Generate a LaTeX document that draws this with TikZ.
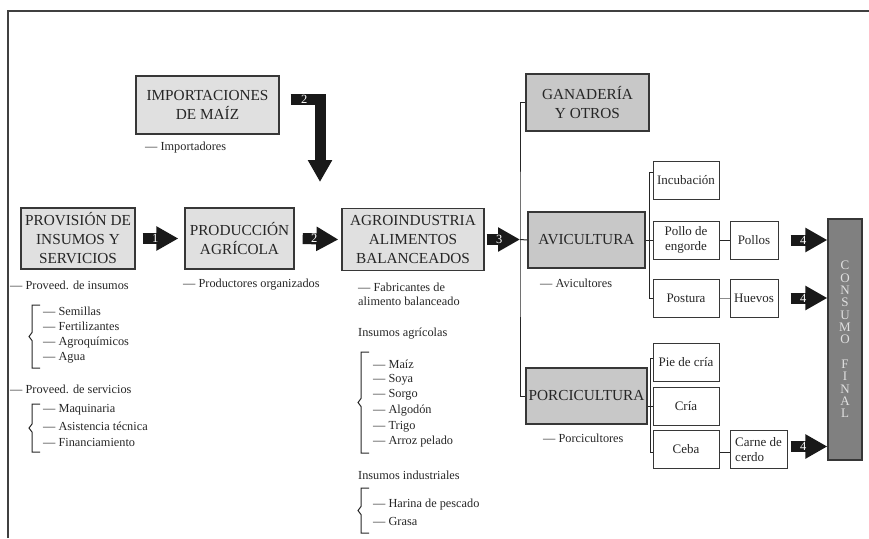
\documentclass[tikz,border=0pt]{standalone}
\usepackage{fontspec}
\setmainfont{Liberation Serif}
\usetikzlibrary{arrows.meta, positioning, calc}

\definecolor{grisclaro}{RGB}{224,224,224}
\definecolor{grismedio}{RGB}{200,200,200}
\definecolor{grisoscuro}{RGB}{128,128,128}
\definecolor{borde}{RGB}{55,55,55}

\tikzset{
  caja/.style={draw=borde, line width=1.3pt, fill=grisclaro, align=center, inner sep=0pt,
    font=\fontsize{15.3}{19}\selectfont, text=black!85},
  sector/.style={caja, fill=grismedio},
  cajita/.style={draw=borde, line width=1pt, fill=white, align=center, inner sep=0pt,
    font=\fontsize{13}{15.7}\selectfont, text=black!85, minimum height=38pt},
  texto/.style={anchor=west, inner sep=0pt, font=\fontsize{12.3}{15.6}\selectfont, text=black!85},
  rama/.style={draw=black!85, line width=1pt},
  flecha/.style={draw=black!90, line width=11pt, -{Triangle[length=22pt, width=23pt]}},
  num/.style={text=white, inner sep=0pt, font=\fontsize{12.5}{12.5}\selectfont},
}

% corchete: x, arriba, abajo
\newcommand{\corchete}[3]{%
  \draw[rama] (#1+11,#2) -- (#1+3,#2) -- (#1+3,{(#2+#3)/2-4}) -- (#1,{(#2+#3)/2})
    -- (#1+3,{(#2+#3)/2+4}) -- (#1+3,#3) -- (#1+11,#3);}

\begin{document}
\begin{tikzpicture}[x=1pt, y=-1pt]
        % --- definiciones ---
        \def\colA{653}   % columna de cajitas
        \def\anchoA{66}
        \def\colB{754}

        \useasboundingbox (0,0) rectangle (869,538);

        % --- marco ---
        \draw[black!75, line width=1.5pt] (8,538) -- (8,11) -- (869,11);

        % --- cadena principal ---
        \node[caja, minimum width=143pt, minimum height=58pt] (imp) at (207.5,105) {IMPORTACIONES\\DE MAÍZ};
        \node[caja, minimum width=114pt, minimum height=61pt] (prov) at (78,238.5) {PROVISIÓN DE\\INSUMOS Y\\SERVICIOS};
        \node[caja, minimum width=109pt, minimum height=61pt] (prod) at (239.5,238.5) {PRODUCCIÓN\\AGRÍCOLA};
        \node[caja, minimum width=142pt, minimum height=62pt] (agro) at (413,239.5) {AGROINDUSTRIA\\ALIMENTOS\\BALANCEADOS};

        % --- sectores ---
        \node[sector, minimum width=123pt, minimum height=57pt] (gan) at (587.5,102.5) {GANADERÍA\\Y OTROS};
        \node[sector, minimum width=117pt, minimum height=56pt] (avi) at (586.5,240) {AVICULTURA};
        \node[sector, minimum width=121pt, minimum height=56pt] (porci) at (586.5,396) {PORCICULTURA};

        % --- cajitas ---
        \node[cajita, minimum width=\anchoA pt] (incub) at (\colA+33,180) {Incubación};
        \node[cajita, minimum width=\anchoA pt] (pollo) at (\colA+33,240) {Pollo de\\engorde};
        \node[cajita, minimum width=\anchoA pt] (postura) at (\colA+33,298) {Postura};
        \node[cajita, minimum width=\anchoA pt] (pie) at (\colA+33,362) {Pie de cría};
        \node[cajita, minimum width=\anchoA pt] (cria) at (\colA+33,406) {Cría};
        \node[cajita, minimum width=\anchoA pt] (ceba) at (\colA+33,449.5) {Ceba};
        \node[cajita, minimum width=48pt] (pollos) at (\colB,240) {Pollos};
        \node[cajita, minimum width=48pt] (huevos) at (\colB,298) {Huevos};
        \node[cajita, minimum width=57pt, align=left] (carne) at (758.5,449.5) {Carne de\\cerdo};

        \node[draw=borde, line width=1.3pt, fill=grisoscuro, minimum width=34pt, minimum height=241pt,
              inner sep=0pt, align=center, text=black!12, font=\fontsize{13}{12.33}\selectfont]
              (consumo) at (845,339.5) {C\\O\\N\\S\\U\\M\\O\\[12.33pt]F\\I\\N\\A\\L};

        % --- flechas ---
        \draw[flecha] ([xshift=7pt]prov.east) -- ([xshift=-6pt]prod.west) node[num, pos=0, anchor=west, xshift=4pt] (n1) {1};
        \draw[flecha] ([xshift=8pt]prod.east) -- ([xshift=-3pt]agro.west) node[num, pos=0, anchor=west, xshift=3pt] (n2) {2};
        \coordinate (caida) at (320,182);
        \draw[flecha] ([xshift=11pt, yshift=6pt]imp.east) -| (caida) node[num, pos=0, anchor=west, xshift=5pt] (n2b) {2};
        \coordinate (tronco) at (520,239.5);
        \draw[flecha] ([xshift=2pt]agro.east) -- (tronco) node[num, pos=0, anchor=west, xshift=4pt] (n3) {3};
        \draw[flecha] ([xshift=12pt]pollos.east) -- (consumo.west |- pollos.east) node[num, pos=0, anchor=west, xshift=4pt] (n4a) {4};
        \draw[flecha] ([xshift=12pt]huevos.east) -- (consumo.west |- huevos.east) node[num, pos=0, anchor=west, xshift=4pt] (n4b) {4};
        \coordinate (carne-sal) at ([xshift=3pt, yshift=3pt]carne.east);
        \draw[flecha] (carne-sal) -- (consumo.west |- carne-sal) node[num, pos=0, anchor=west, xshift=4pt] (n4c) {4};

        % --- ramas ---
        \draw[rama] (gan.west) -| (tronco) |- (porci.west);
        \draw[rama] (tronco) -- (avi.west);
        \coordinate (avi-eje) at (649,240);
        \draw[rama] ([yshift=8pt]incub.west) -| (avi-eje) |- (postura.west);
        \draw[rama] (avi.east) -- (pollo.west);
        \coordinate (porci-eje) at (650,406);
        \draw[rama] ([yshift=4pt]pie.west) -| (porci-eje) |- ([yshift=-3pt]ceba.west);
        \draw[rama] (porci.east |- cria.west) -- (cria.west);
        \draw[rama] (pollo) -- (pollos);
        \draw[rama, draw=black!45] (postura) -- (huevos);
        \draw[rama] ([yshift=-3pt]ceba.east) -- ([yshift=-3pt]carne.west);

        % --- actores ---
        \node[texto] (importadores) at (145,148) {— Importadores};
        \node[texto] (provins) at (10,285) {— Proveed. de insumos};
        \node[texto] (productores) at (183,285) {— Productores organizados};
        \node[texto] (avicultores) at (540,283) {— Avicultores};
        \node[texto] (porcicultores) at (543,438) {— Porcicultores};
        \node[texto] (provserv) at (10,389) {— Proveed. de servicios};

        % --- insumos y servicios ---
        \foreach \t [count=\i] in {Semillas, Fertilizantes, Agroquímicos, Agua}
            \node[texto] (ins-\i) at (43, 311+15.7*\i-15.7) {— \t};
        \corchete{29}{305}{368}
        \foreach \t [count=\i] in {Maquinaria, Asistencia técnica, Financiamiento}
            \node[texto] (serv-\i) at (43, 410+16*\i-16) {— \t};
        \corchete{29}{404}{452}

        % --- alimento balanceado ---
        \node[texto, align=left] (fab) at (358,294) {— Fabricantes de\\[-1.6pt]alimento balanceado};
        \node[texto] (agricolas) at (358,334) {Insumos agrícolas};
        \foreach \t [count=\i] in {Maíz, Soya, Sorgo, Algodón, Trigo, Arroz pelado}
            \node[texto] (agr-\i) at (373, 364+15.6*\i-15.6) {— \t};
        \corchete{358}{352}{453}
        \node[texto] (industriales) at (358,475) {Insumos industriales};
        \foreach \t [count=\i] in {Harina de pescado, Grasa}
            \node[texto] (ind-\i) at (373, 505+16.5*\i-16.5) {— \t};
        \corchete{358}{488}{533}

    \end{tikzpicture}
\end{document}
